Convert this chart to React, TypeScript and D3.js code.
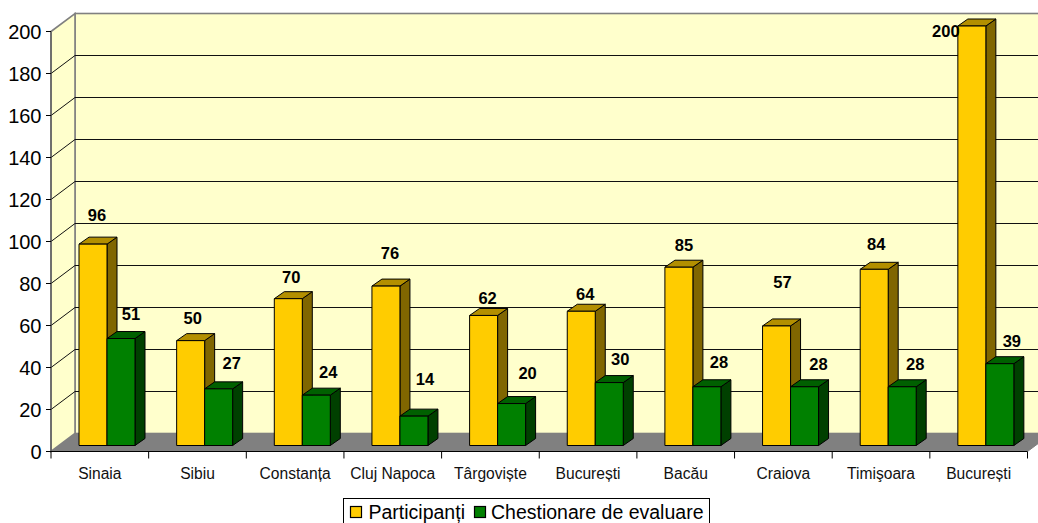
import React from "react";
import * as d3 from "d3";

const categories = ["Sinaia", "Sibiu", "Constanța", "Cluj Napoca", "Târgoviște", "București", "Bacău", "Craiova", "Timişoara", "București"];
const participanti = [96, 50, 70, 76, 62, 64, 85, 57, 84, 200];
const chestionare = [51, 27, 24, 14, 20, 30, 28, 28, 28, 39];
const yTicks = [0, 20, 40, 60, 80, 100, 120, 140, 160, 180, 200];
const seriesNames = ["Participanți", "Chestionare de evaluare"];

// Hand-placed data label nudges in the original: [dx from bar front centre, baseline y above bar top]
const labelNudgeA = [[4, 23], [2, 17], [3, 16], [4, 27], [4, 11], [4, 11], [5, 16], [6, 38], [2, 19], [-26, -11]];
const labelNudgeB = [[10, 18], [13, 20], [12, 17], [11, 31], [16, 25], [11, 18], [12, 19], [14, 17], [13, 17], [12, 17]];

const FONT = "'Liberation Sans', Arial, sans-serif";
const DX = 24, DY = -18;      // wall depth
const BX = 8, BY = -6;        // bar front plane offset from the axis plane
const TX = 10, TY = -7;       // bar depth
const BAR_W = 28;

const y = d3.scaleLinear().domain([0, 200]).range([451.5, 31.5]);
const yBar = d3.scaleLinear().domain([0, 200]).range([445.5, 26]);
const x = d3.scaleBand<number>().domain(d3.range(categories.length)).range([51, 1027.5]);

function Bar({ x0, val, front, side, top }: { x0: number; val: number; front: string; side: string; top: string }) {
  const yb = yBar(0);
  const yt = yBar(val);
  const x1 = x0 + BAR_W;
  const path = d3.path;
  const poly = (pts: number[][]) => {
    const p = path();
    pts.forEach(([a, b], i) => (i ? p.lineTo(a, b) : p.moveTo(a, b)));
    p.closePath();
    return p.toString();
  };
  const sw = { stroke: "#000", strokeWidth: 1, strokeLinejoin: "round" as const };
  return (
    <g>
      <path d={poly([[x1, yt], [x1 + TX, yt + TY], [x1 + TX, yb + TY], [x1, yb]])} fill={side} {...sw} />
      <path d={poly([[x0, yt], [x0 + TX, yt + TY], [x1 + TX, yt + TY], [x1, yt]])} fill={top} {...sw} />
      <rect x={x0} y={yt} width={BAR_W} height={yb - yt} fill={front} {...sw} />
    </g>
  );
}

export default function App() {
  const x0 = 51, x1 = 1027.5;
  const y0 = y(0), yTop = y(200);
  const bandStart = (i: number) => x(i)!;
  return (
    <svg width={1038} height={523} style={{ position: "absolute", left: 0, top: 0, display: "block" }} fontFamily={FONT}>
      {/* walls */}
      <rect x={x0 + DX} y={yTop + DY} width={x1 - x0} height={y0 - yTop} fill="#FFFFCC" stroke="#808080" strokeWidth={1.6} />
      <path d={`M${x0},${y0}L${x0},${yTop}L${x0 + DX},${yTop + DY}L${x0 + DX},${y0 + DY}Z`} fill="#FFFFCC" stroke="#808080" strokeWidth={1.6} />
      {/* floor */}
      <path d={`M${x0},${y0}L${x0 + DX},${y0 + DY}L${x1 + DX},${y0 + DY}L${x1},${y0}Z`} fill="#808080" />
      {/* grid */}
      {yTicks.slice(1, -1).map((t) => (
        <path key={t} d={`M${x0},${y(t)}L${x0 + DX},${y(t) + DY}L${x1 + DX},${y(t) + DY}`} fill="none" stroke="#111" strokeWidth={1} />
      ))}
      {/* axes */}
      <line x1={x0} x2={x0} y1={yTop} y2={y0} stroke="#555" strokeWidth={1.2} />
      <line x1={x0} x2={x1} y1={y0} y2={y0} stroke="#000" strokeWidth={1.2} />
      <line x1={x1} x2={x1 + DX} y1={y0} y2={y0 + DY} stroke="#808080" strokeWidth={1} />
      {yTicks.map((t) => (
        <g key={t}>
          <line x1={x0 - 5} x2={x0} y1={y(t)} y2={y(t)} stroke="#000" strokeWidth={1} />
          <text x={41.5} y={y(t)} dy="0.36em" textAnchor="end" fontSize={20} fill="#000">{t}</text>
        </g>
      ))}
      {d3.range(categories.length + 1).map((i) => {
        const tx = i < categories.length ? bandStart(i) : x1;
        return <line key={i} x1={tx} x2={tx} y1={y0} y2={y0 + 7} stroke="#000" strokeWidth={1} />;
      })}
      {categories.map((c, i) => (
        <text key={i} x={bandStart(i) + x.bandwidth() / 2} y={479} textAnchor="middle" fontSize={15.6} fill="#111">{c}</text>
      ))}
      {/* bars */}
      {categories.map((c, i) => {
        const a = bandStart(i) + 20 + BX;
        return (
          <g key={i}>
            <Bar x0={a} val={participanti[i]} front="#FFCC00" side="#806600" top="#B38F00" />
            <Bar x0={a + BAR_W} val={chestionare[i]} front="#008000" side="#004000" top="#006000" />
          </g>
        );
      })}
      {/* labels */}
      {categories.map((c, i) => {
        const a = bandStart(i) + 20 + BX;
        const [da, ha] = labelNudgeA[i];
        const [db, hb] = labelNudgeB[i];
        return (
          <g key={i} fontSize={16.5} fontWeight="bold" textAnchor="middle" fill="#000">
            <text x={a + BAR_W / 2 + da} y={y(participanti[i]) + BY - ha}>{participanti[i]}</text>
            <text x={a + BAR_W * 1.5 + db} y={y(chestionare[i]) + BY - hb}>{chestionare[i]}</text>
          </g>
        );
      })}
      {/* legend */}
      <rect x={343.5} y={498.5} width={366} height={30} fill="#fff" stroke="#000" strokeWidth={1} />
      <rect x={350.5} y={506.5} width={11} height={11} fill="#FFCC00" stroke="#000" strokeWidth={1.2} />
      <text x={368.5} y={519} fontSize={19.5} fill="#000">{seriesNames[0]}</text>
      <rect x={474.5} y={506.5} width={11} height={11} fill="#008000" stroke="#000" strokeWidth={1.2} />
      <text x={491} y={519} fontSize={19.5} fill="#000">{seriesNames[1]}</text>
    </svg>
  );
}
